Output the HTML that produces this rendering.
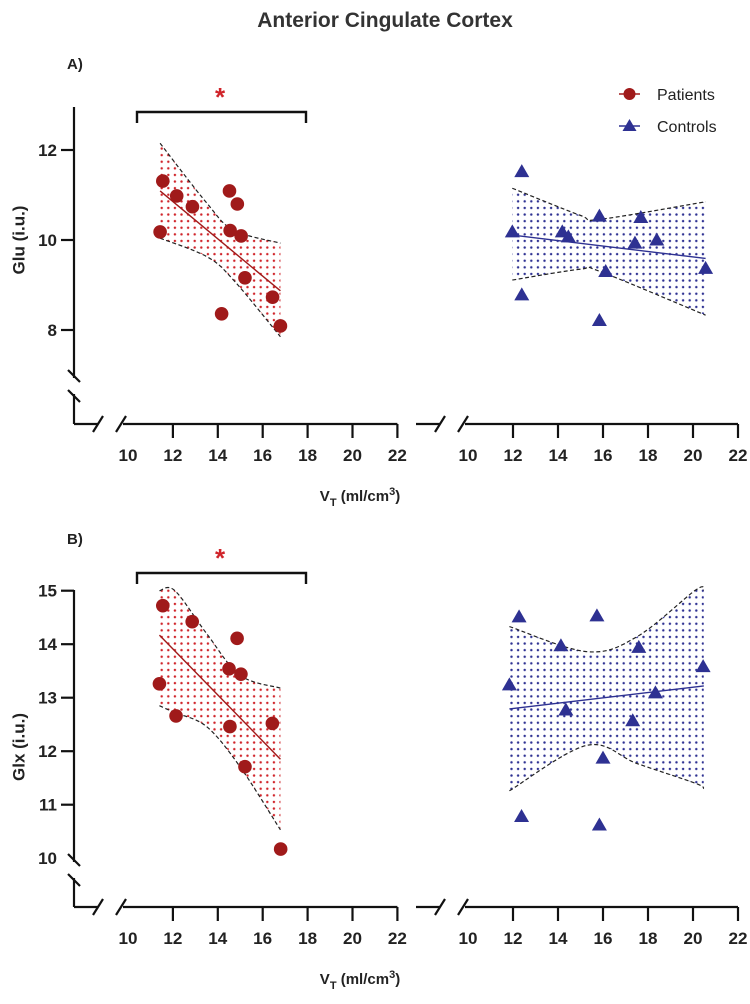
<!DOCTYPE html>
<html><head><meta charset="utf-8"><style>
html,body{margin:0;padding:0;background:#fff;width:750px;height:1004px;overflow:hidden}
svg{display:block;font-family:"Liberation Sans",Arial,sans-serif}
</style></head><body>
<svg id="chart" width="750" height="1004" viewBox="0 0 750 1004" xmlns="http://www.w3.org/2000/svg">
<defs>
<pattern id="dotsRed" width="6.6" height="6.6" patternUnits="userSpaceOnUse"><circle cx="3.3" cy="3.3" r="1.2" fill="#d0242a"/></pattern>
<pattern id="dotsBlue" width="6.6" height="6.6" patternUnits="userSpaceOnUse"><circle cx="3.3" cy="3.3" r="1.2" fill="#2e3192"/></pattern>
</defs>
<text x="385" y="27" text-anchor="middle" font-size="21" font-weight="bold" fill="#333">Anterior Cingulate Cortex</text>
<g>
<g><line x1="619" y1="94" x2="640" y2="94" stroke="#a01a1a" stroke-width="1.5"/><circle cx="629.5" cy="94" r="6" fill="#a01a1a"/><text x="657" y="100" font-size="16" fill="#222">Patients</text></g>
<g><line x1="619" y1="126" x2="640" y2="126" stroke="#2e3192" stroke-width="1.5"/><polygon points="629.5,119 636.5,131 622.5,131" fill="#2e3192"/><text x="657" y="132" font-size="16" fill="#222">Controls</text></g>
</g>
<g id="plots"></g>
</svg>
<script>
const xTicks = [10,12,14,16,18,20,22];
const gluTicks = [8,10,12];
const glxTicks = [10,11,12,13,14,15];
const gluPatX = [11.55,12.17,12.87,11.43,14.52,14.87,14.55,15.04,15.21,16.44,14.17,16.79];
const gluPatY = [11.31,10.98,10.74,10.18,11.09,10.80,10.21,10.09,9.16,8.73,8.36,8.09];
const gluPatLineX = [11.43,16.79];
const gluPatLineY = [11.09,8.87];
const gluPatBandX = [11.43,13.51,14.7,16.79];
const gluPatUpper = [12.15,10.82,10.22,9.93];
const gluPatLower = [10.04,9.63,9.11,7.85];
const gluConX = [12.39,11.97,12.39,14.19,14.46,15.84,15.84,16.12,17.42,17.68,18.39,20.56];
const gluConY = [11.52,10.18,8.78,10.18,10.07,10.53,8.21,9.30,9.93,10.50,10.00,9.37];
const gluConLineX = [11.97,20.56];
const gluConLineY = [10.11,9.59];
const gluConBandX = [11.97,14.98,15.87,20.56];
const gluConUpper = [11.15,10.55,10.46,10.85];
const gluConLower = [9.11,9.35,9.30,8.33];
const glxPatX = [11.55,12.86,14.86,14.50,15.03,11.40,12.14,14.54,16.43,15.21,16.80];
const glxPatY = [14.72,14.42,14.11,13.54,13.44,13.26,12.66,12.46,12.52,11.71,10.17];
const glxPatLineX = [11.40,16.79];
const glxPatLineY = [14.17,11.85];
const glxPatBandX = [11.40,12.09,13.5,14.99,16.79];
const glxPatUpper = [15.0,15.0,14.2,13.42,13.18];
const glxPatLower = [12.85,12.72,12.46,11.71,10.53];
const glxConX = [12.27,15.73,14.13,17.59,20.45,11.84,18.33,14.35,17.32,16.00,12.38,15.84];
const glxConY = [14.51,14.53,13.97,13.94,13.58,13.24,13.09,12.77,12.57,11.87,10.78,10.62];
const glxConLineX = [11.84,20.48];
const glxConLineY = [12.79,13.22];
const glxConBandX = [11.84,15.29,17.51,20.11,20.48];
const glxConUpper = [14.33,13.86,14.14,15.01,15.01];
const glxConLower = [11.26,12.11,11.77,11.4,11.3];

const NS = "http://www.w3.org/2000/svg";
const root = document.getElementById('plots');
function mk(tag, attrs, parent){const e=document.createElementNS(NS,tag);for(const k in attrs)e.setAttribute(k,attrs[k]);(parent||root).appendChild(e);return e;}
const xLeft = v => 128 + (v-10)*22.45;
const xRight = v => 468 + (v-10)*22.5;

function smoothPath(xs, ys){
  let d = "M"+xs[0]+","+ys[0];
  for(let i=0;i<xs.length-1;i++){
    const x0=xs[Math.max(i-1,0)],y0=ys[Math.max(i-1,0)],x1=xs[i],y1=ys[i],x2=xs[i+1],y2=ys[i+1],x3=xs[Math.min(i+2,xs.length-1)],y3=ys[Math.min(i+2,ys.length-1)];
    d+=" C"+(x1+(x2-x0)/6)+","+(y1+(y2-y0)/6)+" "+(x2-(x3-x1)/6)+","+(y2-(y3-y1)/6)+" "+x2+","+y2;
  }
  return d;
}

function drawGroup(g, sx, sy, bx, up, lo, lx, ly, px, py, color, pat, shape, nm){
  const ux=bx.map(sx), uy=up.map(sy), ly2=lo.map(sy);
  const top=smoothPath(ux,uy);
  const rx=ux.slice().reverse(), ry=ly2.slice().reverse();
  const bot=smoothPath(rx,ry).replace(/^M/,"L");
  const band=mk('path',{d:top+" "+bot+" Z",fill:"url(#"+pat+")",stroke:"none"},g);
  
  
  const ub=mk('path',{d:top,fill:"none",stroke:"#222","stroke-width":1.2,"stroke-dasharray":"4,2.5"},g);
  
  
  const lb=mk('path',{d:smoothPath(ux,ly2),fill:"none",stroke:"#222","stroke-width":1.2,"stroke-dasharray":"4,2.5"},g);
  
  
  const rl=mk('line',{x1:sx(lx[0]),y1:sy(ly[0]),x2:sx(lx[1]),y2:sy(ly[1]),stroke:color,"stroke-width":1.4},g);
  
  
  for(let i=0;i<px.length;i++){
    const cx=sx(px[i]), cy=sy(py[i]);
    let m;
    if(shape==='circle') m=mk('circle',{cx:cx,cy:cy,r:6.8,fill:color},g);
    else m=mk('polygon',{points:cx+","+(cy-7.5)+" "+(cx+7.5)+","+(cy+5.5)+" "+(cx-7.5)+","+(cy+5.5),fill:color},g);
    
    
  }
}

function slash(g,x,y){mk('line',{x1:x-5,y1:y+8,x2:x+5,y2:y-8,stroke:"#111","stroke-width":2.2},g);}
function vslash(g,x,y){mk('line',{x1:x-6,y1:y-6,x2:x+6,y2:y+6,stroke:"#111","stroke-width":2.2},g);}

function drawPanel(cfg){
  const g=mk('g',{});
  
  
  const sy=v=>cfg.y0+(cfg.v0-v)*cfg.pu;
  const ax=cfg.axisY;
  const ya=mk('g',{},g);
  
  
  mk('line',{x1:74,y1:cfg.yTop,x2:74,y2:cfg.breakY-8,stroke:"#111","stroke-width":2.2},ya);
  mk('line',{x1:74,y1:cfg.breakY+8,x2:74,y2:ax,stroke:"#111","stroke-width":2.2},ya);
  vslash(ya,74,cfg.breakY-10); vslash(ya,74,cfg.breakY+10);
  cfg.yTicks.forEach(v=>{
    const y=sy(v);
    if(!cfg.noTick.includes(v)) mk('line',{x1:61,y1:y,x2:74,y2:y,stroke:"#111","stroke-width":2.2},ya);
    const t=mk('text',{x:57,y:y+6,"text-anchor":"end","font-size":17,"font-weight":"bold",fill:"#222"},ya);
    t.textContent=v;
  });
  const yl=mk('text',{x:19,y:cfg.labelY,"text-anchor":"middle","font-size":17,"font-weight":"bold",fill:"#222",transform:"rotate(-90 19 "+cfg.labelY+")","dominant-baseline":"central"},g);
  yl.textContent=cfg.ylabel;
  
  
  [[xLeft,74,98,123],[xRight,416,440,465]].forEach((s,idx)=>{
    const xa=mk('g',{},g);
    
    
    mk('line',{x1:s[1],y1:ax,x2:s[2],y2:ax,stroke:"#111","stroke-width":2.2},xa);
    slash(xa,s[2],ax); slash(xa,s[3]-2,ax);
    mk('line',{x1:s[3],y1:ax,x2:s[0](22),y2:ax,stroke:"#111","stroke-width":2.2},xa);
    xTicks.forEach(v=>{
      const x=s[0](v);
      if(v>10) mk('line',{x1:x,y1:ax,x2:x,y2:ax+14,stroke:"#111","stroke-width":2.2},xa);
      const t=mk('text',{x:x,y:ax+37,"text-anchor":"middle","font-size":17,"font-weight":"bold",fill:"#222",textLength:19,lengthAdjust:"spacingAndGlyphs"},xa);
      t.textContent=v;
    });
  });
  const xl=mk('text',{x:360,y:ax+77,"text-anchor":"middle","font-size":15,"font-weight":"bold",fill:"#222"},g);
  xl.innerHTML='V<tspan dy="5" font-size="11">T</tspan><tspan dy="-5"> (ml/cm</tspan><tspan dy="-6" font-size="11">3</tspan><tspan dy="6">)</tspan>';
  
  
  const pl=mk('text',{x:67,y:cfg.letterY,"font-size":15,"font-weight":"bold",fill:"#222"},g);
  pl.textContent=cfg.letter;
  
  
  const br=mk('path',{d:"M137,"+(cfg.brY+11)+" V"+cfg.brY+" H306 V"+(cfg.brY+11),fill:"none",stroke:"#111","stroke-width":2.4},g);
  
  
  const st=mk('text',{x:220,y:cfg.brY-6,"text-anchor":"middle","font-size":26,"font-weight":"bold",fill:"#d0242a"},g);
  st.textContent='*';
  
  
  const gp=mk('g',{},g);
  
  
  drawGroup(gp,xLeft,sy,cfg.p[0],cfg.p[1],cfg.p[2],cfg.p[3],cfg.p[4],cfg.p[5],cfg.p[6],"#a01a1a","dotsRed","circle",cfg.name+'-patients');
  const gc=mk('g',{},g);
  
  
  drawGroup(gc,xRight,sy,cfg.c[0],cfg.c[1],cfg.c[2],cfg.c[3],cfg.c[4],cfg.c[5],cfg.c[6],"#2e3192","dotsBlue","tri",cfg.name+'-controls');
}

drawPanel({name:'panel-a-glu',letter:'A)',letterY:69,ylabel:'Glu (i.u.)',labelY:240,y0:150,v0:12,pu:45,yTop:107,breakY:386,axisY:424,yTicks:gluTicks,noTick:[],brY:112,
  p:[gluPatBandX,gluPatUpper,gluPatLower,gluPatLineX,gluPatLineY,gluPatX,gluPatY],
  c:[gluConBandX,gluConUpper,gluConLower,gluConLineX,gluConLineY,gluConX,gluConY]});
drawPanel({name:'panel-b-glx',letter:'B)',letterY:544,ylabel:'Glx (i.u.)',labelY:747,y0:590.7,v0:15,pu:53.5,yTop:590,breakY:870,axisY:907,yTicks:glxTicks,noTick:[10],brY:573,
  p:[glxPatBandX,glxPatUpper,glxPatLower,glxPatLineX,glxPatLineY,glxPatX,glxPatY],
  c:[glxConBandX,glxConUpper,glxConLower,glxConLineX,glxConLineY,glxConX,glxConY]});
</script>
</body></html>
